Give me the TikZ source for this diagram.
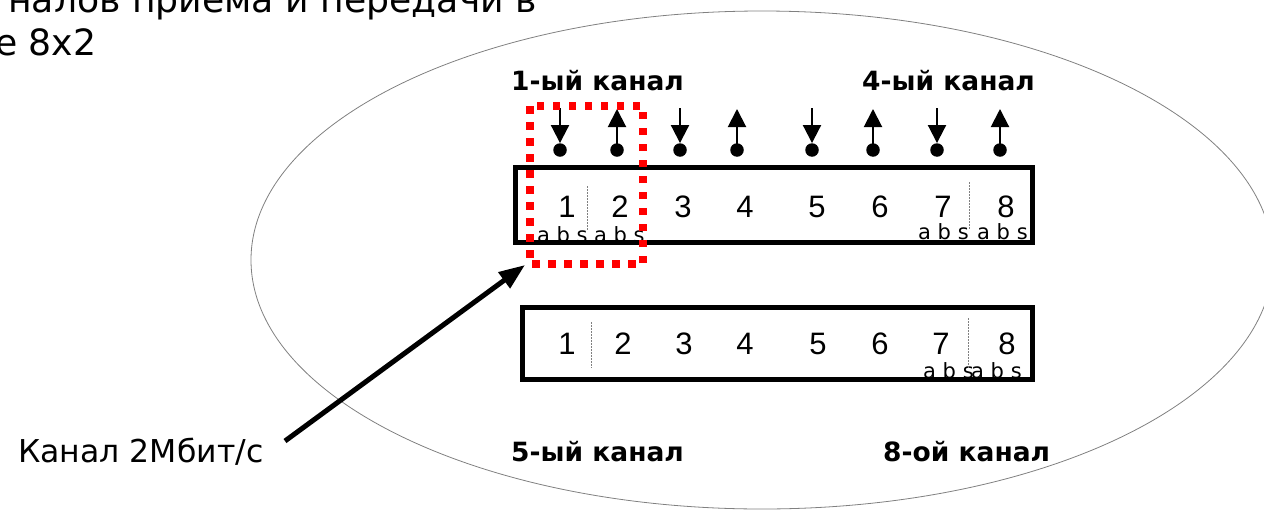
\documentclass[tikz,border=0pt]{standalone}
\usepackage{fontspec}
\usetikzlibrary{arrows.meta,shapes.geometric}
\newfontfamily\dvs{DejaVu Sans}
\newfontfamily\ars{Liberation Sans}
\tikzset{
  frame/.style={draw=black, line width=5pt, inner sep=0pt},
  digit/.style={anchor=base, inner sep=0pt, font=\ars\fontsize{31}{31}\selectfont},
  abs/.style={anchor=base west, inner sep=0pt, font=\dvs\fontsize{21}{21}\selectfont},
  sep/.style={draw=gray, line width=0.8pt, dash pattern=on 1.5pt off 1.5pt},
  pin/.style={circle, fill=black, inner sep=0pt, minimum size=13.5pt},
  pinarrow/.style={line width=2pt, -{Triangle[length=18pt,width=18pt]}},
  chlabel/.style={anchor=base west, inner sep=0pt, font=\dvs\bfseries\fontsize{26.5}{26.5}\selectfont},
  bigtext/.style={anchor=base west, inner sep=0pt, font=\dvs\fontsize{36.2}{36.2}\selectfont},
  reddots/.style={draw=red, line width=7.5pt, dash pattern=on 7.5pt off 8.5pt},
  bigarrow/.style={line width=5pt, -{Triangle[length=26pt,width=19pt]}},
}
\begin{document}
\begin{tikzpicture}[x=1pt, y=-1pt]
\useasboundingbox (0,0) rectangle (1264,509);
\clip (0,0) rectangle (1264,509);
% ellipse
\node[draw=gray, line width=0.8pt, ellipse, minimum width=1022pt, minimum height=498pt, inner sep=0pt] (oval) at (762,260) {};
% title fragments
\node[bigtext] (t1) at (8,12) {налов приема и передачи в};
\node[bigtext] (t2) at (-5,55) {е 8x2};
% channel labels
\node[chlabel] (l1) at (511,90) {1-ый канал};
\node[chlabel] (l4) at (862,90) {4-ый канал};
\node[chlabel] (l5) at (511,461) {5-ый канал};
\node[chlabel] (l8) at (883,461) {8-ой канал};
% frames
\node[frame, minimum width=517pt, minimum height=75pt] (top) at (774,205) {};
\node[frame, minimum width=510pt, minimum height=72pt] (bot) at (777.5,343.5) {};
% digits top
\foreach \x [count=\i] in {567,620,683,745,817,880,943,1006} {
  \node[digit] (d\i) at (\x,217) {\i};
}
% digits bottom
\foreach \x [count=\i] in {567,623,684,745,818,880,941,1007} {
  \node[digit] (e\i) at (\x,354) {\i};
}
% a b s labels
\node[abs] (s1) at (537,242) {a b s};
\node[abs] (s2) at (594,242) {a b s};
\node[abs] (s7) at (918,239) {a b s};
\node[abs] (s8) at (977,239) {a b s};
\node[abs] (u7) at (923,378) {a b s};
\node[abs] (u8) at (971,378) {a b s};
% separators
\coordinate (p1a) at (587,186); \coordinate (p1b) at (587,230);
\coordinate (p2a) at (969,182); \coordinate (p2b) at (969,230);
\coordinate (q1a) at (591,322); \coordinate (q1b) at (591,368);
\coordinate (q2a) at (968,318); \coordinate (q2b) at (968,368);
\draw[sep] (p1a) -- (p1b);
\draw[sep] (p2a) -- (p2b);
\draw[sep] (q1a) -- (q1b);
\draw[sep] (q2a) -- (q2b);
% pins
\foreach \x [count=\i] in {560,617,680,737,812,873,937,1000} {
  \node[pin] (pin\i) at (\x,150) {};
}
\foreach \i/\x in {1/560,3/680,5/812,7/937} {
  \coordinate (pa\i) at (\x,108);
  \draw[pinarrow] (pa\i) -- (pin\i.north);
}
\foreach \i/\x in {2/617,4/737,6/873,8/1000} {
  \coordinate (pa\i) at (\x,109);
  \draw[pinarrow] (pin\i.center) -- (pa\i);
}
% red dotted rectangle
\coordinate (r1) at (530,106);
\coordinate (r2) at (643,264);
\draw[reddots] (r1) rectangle (r2);
% callout
\node[anchor=base west, inner sep=0pt, font=\dvs\fontsize{31.5}{31.5}\selectfont] (cl) at (18,462) {Канал 2Мбит/с};
\coordinate (as) at (285,441);
\coordinate (ae) at (525,265);
\draw[bigarrow] (as) -- (ae);
\end{tikzpicture}
\end{document}
